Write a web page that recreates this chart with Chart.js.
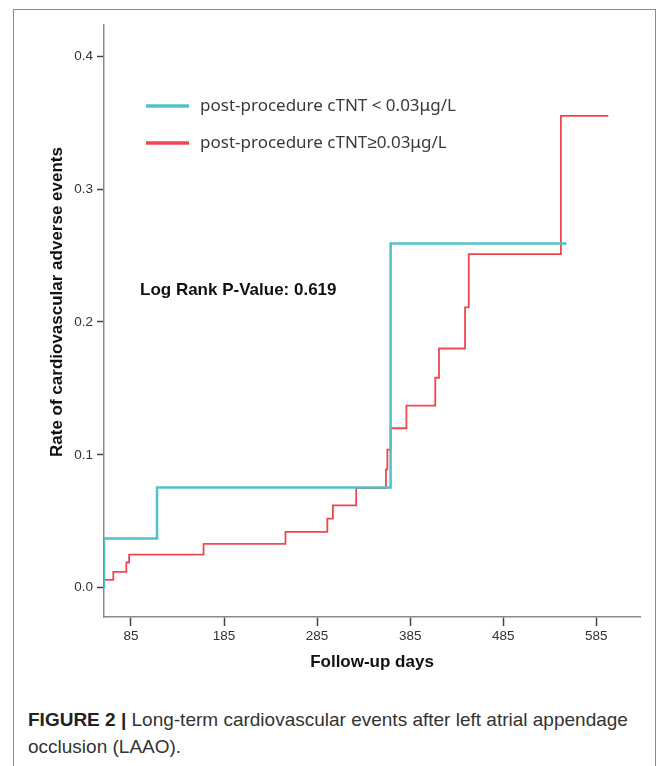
<!DOCTYPE html>
<html>
<head>
<meta charset="utf-8">
<script src="https://cdn.jsdelivr.net/npm/chart.js@4.4.1/dist/chart.umd.min.js"></script>
<style>
  html, body { margin: 0; padding: 0; background: #fff; }
  #page { position: relative; width: 669px; height: 766px; overflow: hidden; }
  #frame { position: absolute; left: 13px; top: 9px; width: 643px; height: 800px; border: 1.5px solid #8a8a8a; box-sizing: border-box; }
  #chart { position: absolute; left: 0; top: 0; }
  #caption { position: absolute; left: 28px; top: 706px; width: 630px; font-family: 'Liberation Sans Narrow', 'Arial Narrow', 'Liberation Sans', sans-serif; font-size: 19px; line-height: 27px; color: #333; }
  #caption b { color: #222; }
</style>
</head>
<body>
<div id="page">
  <div id="frame"></div>
  <canvas id="chart" width="669" height="690"></canvas>
  <div id="caption"><b>FIGURE 2 |</b> Long-term cardiovascular events after left atrial appendage occlusion (LAAO).</div>
</div>
<script>
// Données (jours de suivi, taux cumulés)
const xTickDays = [85, 185, 285, 385, 485, 585];
const yTickRates = [0, 0.1, 0.2, 0.3, 0.4];
const seriesLabels = ['post-procedure cTNT < 0.03μg/L', 'post-procedure cTNT≥0.03μg/L'];
const seriesColors = ['#52c0c4', '#f0474f'];

// cTNT < 0.03
const lowDays  = [56, 56, 113, 364, 553];
const lowRates = [0, 0.037, 0.0755, 0.259, 0.259];

// cTNT >= 0.03
const highDays  = [56, 66, 80, 83, 163, 251, 296, 302, 327, 359, 360.5, 364, 381, 412, 416, 444, 448, 547, 598];
const highRates = [0.006, 0.012, 0.019, 0.025, 0.033, 0.042, 0.052, 0.062, 0.075, 0.089, 0.104, 0.120, 0.137, 0.158, 0.180, 0.211, 0.251, 0.355, 0.355];

const pValueText = 'Log Rank P-Value: 0.619';
const yTitleText = 'Rate of cardiovascular adverse events';

function toPoints(days, rates) {
    return days.map((d, i) => ({ x: d, y: rates[i] }));
}

// Légende, titre Y et texte du log-rank
const annotations = {
    id: 'annotations',
    afterDraw(chart) {
        const ctx = chart.ctx;
        ctx.save();
        chart.data.datasets.forEach((ds, i) => {
            const y = 106 + i * 37;
            ctx.strokeStyle = ds.borderColor;
            ctx.lineWidth = 3.5;
            ctx.beginPath();
            ctx.moveTo(146, y);
            ctx.lineTo(189, y);
            ctx.stroke();
            ctx.fillStyle = '#3a3a3a';
            ctx.font = '17px "Noto Sans", sans-serif';
            ctx.textBaseline = 'middle';
            ctx.fillText(ds.label, 200, y);
        });
        ctx.fillStyle = '#111';
        ctx.font = 'bold 17px "Liberation Sans", Arial, sans-serif';
        ctx.textBaseline = 'middle';
        ctx.fillText(pValueText, 140, 290);

        // titre de l'axe Y
        ctx.translate(57, 302);
        ctx.rotate(-Math.PI / 2);
        ctx.textAlign = 'center';
        ctx.font = 'bold 17px "Liberation Sans", Arial, sans-serif';
        ctx.fillText(yTitleText, 0, 0);
        ctx.restore();
    }
};

const ctx = document.getElementById('chart').getContext('2d');

const chart = new Chart(ctx, {
    type: 'line',
    data: {
        datasets: [{
            label: seriesLabels[0],
            data: toPoints(lowDays, lowRates),
            borderColor: seriesColors[0],
            borderWidth: 2.5,
            stepped: true,
            pointRadius: 0,
            fill: false,
        }, {
            label: seriesLabels[1],
            data: toPoints(highDays, highRates),
            borderColor: seriesColors[1],
            borderWidth: 1.8,
            stepped: true,
            pointRadius: 0,
            fill: false,
        }],
    },
    options: {
        responsive: false,
        animation: false,
        devicePixelRatio: 1,
        layout: { padding: { left: 30, right: 29, top: 25, bottom: 0 } },
        plugins: {
            legend: { display: false },
            tooltip: { enabled: false },
        },
        scales: {
            x: {
                type: 'linear',
                min: 56,
                max: 632,
                afterBuildTicks: (scale) => { scale.ticks = xTickDays.map(v => ({ value: v })); },
                afterFit: (scale) => { scale.height = 73; },
                ticks: {
                    color: '#333',
                    font: { family: '"Liberation Sans", Arial, sans-serif', size: 13.5 },
                    padding: 2,
                    maxRotation: 0,
                },
                grid: { drawOnChartArea: false, tickLength: 9, tickColor: '#444', tickWidth: 1.5 },
                border: { color: '#8a8a8a', width: 1.5 },
                title: {
                    display: true,
                    text: 'Follow-up days',
                    color: '#111',
                    font: { family: '"Liberation Sans", Arial, sans-serif', size: 17, weight: 'bold' },
                    padding: { top: 0, bottom: 17 },
                },
            },
            y: {
                min: -0.022,
                max: 0.4234,
                afterBuildTicks: (scale) => { scale.ticks = yTickRates.map(v => ({ value: v })); },
                afterFit: (scale) => { scale.width = 74; },
                ticks: {
                    color: '#333',
                    font: { family: '"Liberation Sans", Arial, sans-serif', size: 13.5 },
                    padding: 4,
                    callback: (v) => v.toFixed(1),
                },
                grid: { drawOnChartArea: false, tickLength: 7, tickColor: '#444', tickWidth: 1.5 },
                border: { color: '#8a8a8a', width: 1.5 },
                title: { display: false },
            },
        },
    },
    plugins: [annotations],
});
</script>
</body>
</html>
